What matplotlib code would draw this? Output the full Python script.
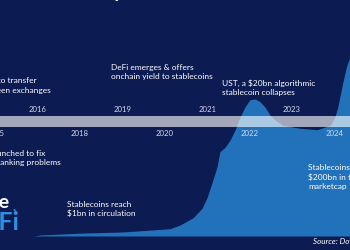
import matplotlib.pyplot as plt
from matplotlib.patches import Rectangle
from matplotlib.transforms import blended_transform_factory

# stablecoin market cap ($bn), x in timeline years
years = [2016.9, 2017.06, 2018.07, 2019.01, 2019.65, 2019.89, 2020.12, 2020.36,
         2020.67, 2020.88, 2021.0, 2021.11, 2021.23, 2021.30, 2021.42, 2021.54,
         2021.66, 2021.77, 2021.89, 2022.01, 2022.13, 2022.25, 2022.36, 2022.48,
         2022.65, 2022.79, 2023.19, 2023.59, 2023.90, 2024.01, 2024.08, 2024.20,
         2024.29, 2024.37, 2024.45]
mcap_bn = [0, 1.4, 4, 5.5, 8, 9, 10, 15, 25, 38, 53, 72, 94, 115, 121, 131,
           145, 162, 176, 186, 187, 183, 176, 165, 156, 151, 147, 145, 151, 162,
           176, 210, 232, 245, 255]

# timeline labels (the graphic skips 2017)
tick_pos = [2016, 2017, 2018, 2019, 2020, 2021, 2022, 2023, 2024]
tick_labels = ['2015', '2016', '2018', '2019', '2020', '2021', '2022', '2023', '2024']

NAVY = '#0c1b52'
AREA = '#2272bb'
plt.rcParams['font.family'] = ['Lato', 'DejaVu Sans']

fig = plt.figure(figsize=(3.5, 2.5), dpi=100, facecolor=NAVY)
ax = fig.add_axes([0, 0, 1, 1], facecolor=NAVY)
ax.set_xlim(2016.113, 2024.368)
ax.set_ylim(-19.1, 322)
ax.axis('off')

ax.fill_between(years, 0, mcap_bn, color=AREA, lw=0, zorder=2)

# timeline band
ax.add_patch(Rectangle((0, 0.492), 1, 0.044, transform=ax.transAxes,
                       facecolor='white', alpha=0.62, lw=0, zorder=3))

trans = blended_transform_factory(ax.transData, ax.transAxes)
for i, (p, lab) in enumerate(zip(tick_pos, tick_labels)):
    y = 1 - 133 / 250 if i % 2 == 0 else 1 - 109.5 / 250
    ax.text(p, y, lab, transform=trans, ha='center', va='center',
            fontsize=5.6, color='#d5dae6', zorder=4)


def px(x, y):
    return x / 350, 1 - y / 250


txt = dict(color='white', fontsize=6.0, va='center', zorder=5)
fig.text(*px(37, 80), 'Used by traders to transfer', ha='right', **txt)
fig.text(*px(51, 90), 'funds between exchanges', ha='right', **txt)
fig.text(*px(45, 153), 'Tether launched to fix', ha='right', **txt)
fig.text(*px(61, 163), "crypto's banking problems", ha='right', **txt)
fig.text(*px(111, 72), 'DeFi emerges & offers\nonchain yield to stablecoins',
         ha='left', linespacing=1.3, **txt)
fig.text(*px(222, 88), 'UST, a $20bn algorithmic\nstablecoin collapses',
         ha='left', linespacing=1.3, **txt)
fig.text(*px(67, 209), 'Stablecoins reach\n$1bn in circulation',
         ha='left', linespacing=1.3, **txt)
fig.text(*px(308, 177), 'Stablecoins surpass\n$200bn in total\nmarketcap',
         ha='left', linespacing=1.3, **txt)
fig.text(*px(313, 242), 'Source: DoveMetrics', ha='left', va='center',
         fontsize=5.8, style='italic', color='white')

# cropped title and logo
fig.text(*px(-1, -2), 'A brief history of stablecoins', ha='left',
         va='baseline', fontsize=14, fontweight='bold', color='white')
fig.text(*px(-23, 202), 'The', ha='left', va='center', fontsize=14,
         fontweight='bold', color='white')
fig.text(*px(12, 207), '.', ha='left', va='center', fontsize=10,
         fontweight='bold', color='#2f8fe0')
fig.text(*px(-34, 222), 'DeFi', ha='left', va='center', fontsize=18,
         fontweight='bold', color='#2f8fe0')

fig.savefig('out.png', dpi=100, facecolor=NAVY)
